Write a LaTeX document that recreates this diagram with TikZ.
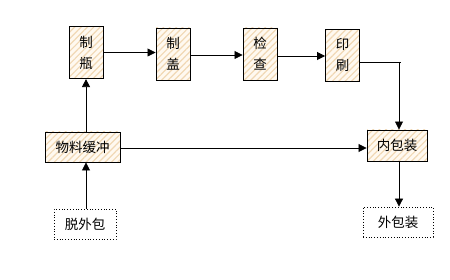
\documentclass[tikz,border=0pt]{standalone}
\usepackage{fontspec}
\setmainfont{Noto Sans CJK SC}
\usetikzlibrary{arrows.meta,patterns.meta}
\definecolor{hatchbg}{HTML}{FFF9F0}
\definecolor{hatchln}{HTML}{F1D8B4}
\begin{document}
\begin{tikzpicture}[x=1pt,y=-1pt,
  hbox/.style={draw=black,line width=0.9pt,preaction={fill=hatchbg},
    pattern={Lines[angle=45,distance=4.5pt,line width=1.2pt]},pattern color=hatchln,
    inner sep=0pt,align=center,font=\fontsize{13.5}{21}\selectfont},
  vbox/.style={hbox,minimum width=34pt,minimum height=52pt},
  dbox/.style={draw=black,dotted,line width=0.8pt,fill=white,inner sep=0pt,
    font=\fontsize{13.5}{16}\selectfont},
  arr/.style={line width=0.8pt,-{Triangle[length=8pt,width=8pt]}},
  ln/.style={line width=0.8pt}]
\useasboundingbox (0,0) rectangle (450,280);
\fill[white] (0,0) rectangle (450,280);
\node[vbox] (zp) at (86,52.5) {制\\瓶};
\node[vbox] (zg) at (173,54) {制\\盖};
\node[vbox] (jc) at (260,54) {检\\查};
\node[vbox] (ys) at (342.5,55.5) {印\\刷};
\node[hbox,minimum width=75pt,minimum height=30pt] (wl) at (82.5,147) {物料缓冲};
\node[dbox,minimum width=62pt,minimum height=30pt] (tw) at (85,224) {脱外包};
\node[hbox,minimum width=60pt,minimum height=31pt] (nb) at (397,145.5) {内包装};
\node[dbox,minimum width=70pt,minimum height=30pt] (wb) at (398,222) {外包装};
\coordinate (tick) at (401,62);
\coordinate (turn) at (399,62);
\draw[arr] (zp.east) -- (zp.east -| zg.west);
\draw[arr] ([yshift=-1pt]zg.east) -- ([yshift=-1pt]zg.east -| jc.west);
\draw[arr] ([yshift=-2pt]jc.east) -- ([yshift=-2pt]jc.east -| ys.west);
\draw[ln] ([yshift=-6.5pt]ys.east) -- (tick);
\draw[arr] (turn) -- (turn |- nb.north);
\draw[arr] (wl.north -| zp) -- (zp.south);
\draw[arr] (tw.north -| zp) -- (wl.south -| zp);
\draw[arr] ([yshift=-1pt]wl.east) -- ([yshift=-1pt]wl.east -| nb.west);
\draw[arr] (nb.south -| turn) -- (wb.north -| turn);
\end{tikzpicture}
\end{document}
